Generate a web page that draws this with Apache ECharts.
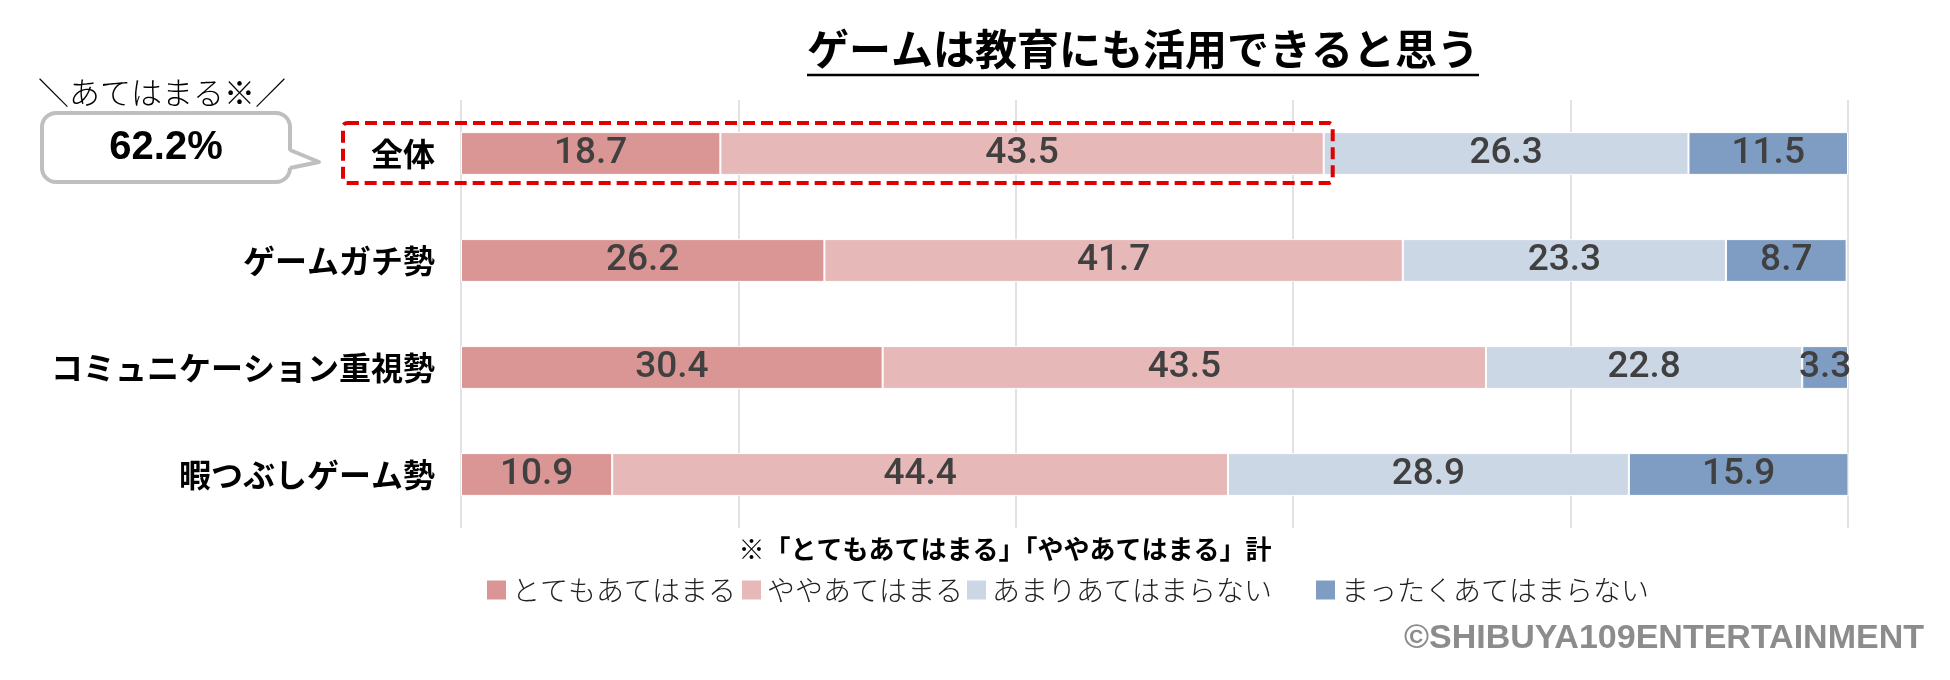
<!DOCTYPE html>
<html>
<head>
<meta charset="utf-8">
<script src="https://cdn.jsdelivr.net/npm/echarts@6/dist/echarts.min.js"></script>
<style>
html,body{margin:0;padding:0;background:#fff;}
#chart{width:1950px;height:680px;}
</style>
</head>
<body>
<div id="chart"></div>
<script>
// ---- data ----
var categories = ['全体', 'ゲームガチ勢', 'コミュニケーション重視勢', '暇つぶしゲーム勢'];
var seriesNames = ['とてもあてはまる', 'ややあてはまる', 'あまりあてはまらない', 'まったくあてはまらない'];
var totemo = [18.7, 26.2, 30.4, 10.9];
var yaya = [43.5, 41.7, 43.5, 44.4];
var amari = [26.3, 23.3, 22.8, 28.9];
var mattaku = [11.5, 8.7, 3.3, 15.9];
var xTicks = [0, 20, 40, 60, 80, 100];
var titleText = 'ゲームは教育にも活用できると思う';
var noteText = '※「とてもあてはまる」「ややあてはまる」計';
var calloutHead = '＼あてはまる※／';
var copyright = '©SHIBUYA109ENTERTAINMENT';

var colors = ['#D99694', '#E6B8B7', '#CCD7E6', '#7F9DC3'];
var JP = '"Noto Sans CJK JP", "Noto Sans", sans-serif';
var NUM = 'Roboto, "Liberation Sans", Arial, sans-serif';
var NUMB = '"Liberation Sans", Arial, sans-serif';

var chart = echarts.init(document.getElementById('chart'), null, {renderer: 'canvas'});

var values = [totemo, yaya, amari, mattaku];
var series = values.map(function (arr, i) {
  return {
    name: seriesNames[i],
    type: 'bar',
    stack: 'total',
    data: arr,
    barCategoryGap: '60%',
    itemStyle: {color: colors[i], borderColor: '#ffffff', borderWidth: 1},
    label: {
      show: true,
      position: 'inside',
      formatter: '{c}',
      color: '#404040',
      fontFamily: NUM,
      fontWeight: 500,
      fontSize: 37
    },
    labelLayout: {hideOverlap: false},
    emphasis: {disabled: true}
  };
});

var legendLefts = [485, 740, 965, 1314];
var legends = seriesNames.map(function (n, i) {
  return {
    data: [n],
    left: legendLefts[i],
    top: 576,
    padding: 0,
    itemWidth: 21,
    itemHeight: 21,
    icon: 'rect',
    selectedMode: false,
    textStyle: {fontFamily: JP, fontSize: 28, fontWeight: 300, color: '#222', padding: [0, 0, 0, 0]}
  };
});

chart.setOption({
  animation: false,
  backgroundColor: '#ffffff',
  grid: {left: 461, right: 102, top: 100, bottom: 152, containLabel: false},
  legend: legends,
  xAxis: {
    type: 'value',
    min: xTicks[0],
    max: xTicks[xTicks.length - 1],
    interval: xTicks[1] - xTicks[0],
    axisLabel: {show: false},
    axisLine: {show: false},
    axisTick: {show: false},
    splitLine: {show: true, lineStyle: {color: '#D9D9D9', width: 1.5}}
  },
  yAxis: {
    type: 'category',
    data: categories,
    inverse: true,
    axisLine: {show: false},
    axisTick: {show: false},
    axisLabel: {margin: 26, fontFamily: JP, fontSize: 32, fontWeight: 'bold', color: '#000'}
  },
  series: series
});

function measure(text, font) {
  var c = document.createElement('canvas').getContext('2d');
  c.font = font;
  return c.measureText(text).width;
}

function buildGraphics() {
  var sumTop = Math.round((totemo[0] + yaya[0]) * 10) / 10;
  var xEnd = chart.convertToPixel({xAxisIndex: 0}, sumTop);
  var yc = chart.convertToPixel({yAxisIndex: 0}, categories[0]);
  var titleFont = 'bold 42px ' + JP;
  var tw = measure(titleText, titleFont);
  var titleCx = 1143, titleCy = 54;
  var bx0 = 42, bx1 = 290, by0 = 113, by1 = 182;
  var elements = [
    {type: 'text', left: titleCx - tw / 2, top: titleCy - 26,
     style: {text: titleText, font: titleFont, fill: '#000'}},
    {type: 'line', shape: {x1: titleCx - tw / 2, y1: 75, x2: titleCx + tw / 2, y2: 75},
     style: {stroke: '#000', lineWidth: 2.5}},
    // red dashed highlight around "全体" top-2 box
    {type: 'rect', shape: {x: 343, y: yc - 30.5, width: xEnd + 9 - 343, height: 60, r: 4},
     style: {fill: 'none', stroke: '#E00000', lineWidth: 4, lineDash: [12, 6]}, z: 10},
    // callout
    {type: 'text', x: (bx0 + bx1) / 2 - 4, y: 92,
     style: {text: calloutHead, font: '300 31px ' + JP, fill: '#000', align: 'center', verticalAlign: 'middle'}},
    {type: 'rect', shape: {x: bx0, y: by0, width: bx1 - bx0, height: by1 - by0, r: 14},
     style: {fill: '#fff', stroke: '#BFBFBF', lineWidth: 4}},
    {type: 'polygon', shape: {points: [[bx1 - 3, 150], [319, 162], [bx1 - 3, 168]]},
     style: {fill: '#fff', stroke: 'none'}},
    {type: 'polyline', shape: {points: [[bx1, 150], [319, 162], [bx1, 168]]},
     style: {fill: 'none', stroke: '#BFBFBF', lineWidth: 4, lineJoin: 'round'}},
    {type: 'text', x: (bx0 + bx1) / 2, y: 148,
     style: {text: sumTop.toFixed(1) + '%', font: 'bold 40px ' + NUMB, fill: '#000', align: 'center', verticalAlign: 'middle'}},
    // note
    {type: 'text', x: 1005, y: 549,
     style: {text: noteText, font: 'bold 26px ' + JP, fill: '#000', align: 'center', verticalAlign: 'middle'}},
    // copyright
    {type: 'text', x: 1924, y: 639,
     style: {text: copyright, font: 'bold 34px ' + NUMB, fill: '#8C8C8C', align: 'right', verticalAlign: 'middle'}}
  ];
  return elements;
}

chart.setOption({graphic: buildGraphics()});
</script>
</body>
</html>
